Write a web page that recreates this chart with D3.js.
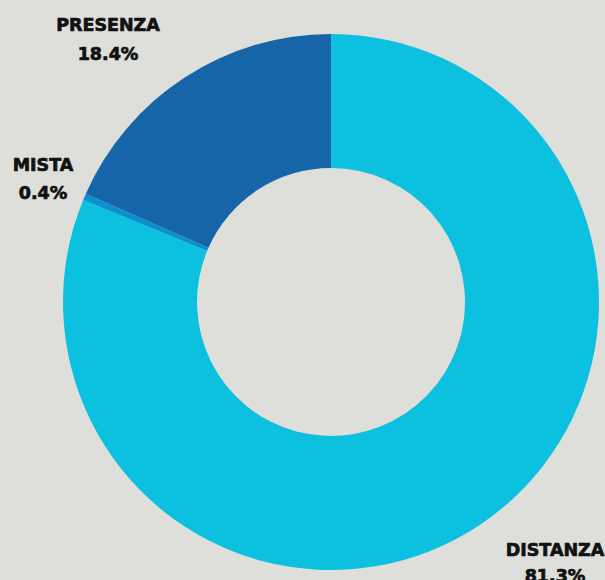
<!DOCTYPE html>
<html><head><meta charset="utf-8">
<script src="https://cdn.jsdelivr.net/npm/d3@7"></script>
<style>html,body{margin:0;padding:0;background:#dededb;overflow:hidden}</style>
</head><body>
<svg id="c" width="605" height="580"></svg>
<script>
const categories = ["DISTANZA", "MISTA", "PRESENZA"];
const values = [81.3, 0.4, 18.4];
const labels = ["81.3%", "0.4%", "18.4%"];
const colors = ["#0cc0df", "#0a8fcf", "#1565a8"];

const svg = d3.select("#c");
svg.append("rect").attr("width", 605).attr("height", 580).attr("fill", "#dededb");
const cx = 331, cy = 302, R = 268, r = 134;
const data = categories.map((c, i) => ({c, v: values[i], l: labels[i], col: colors[i]}));
const pie = d3.pie().value(d => d.v).sort(null);
const arc = d3.arc().innerRadius(r).outerRadius(R);
const g = svg.append("g").attr("transform", `translate(${cx},${cy})`);
g.selectAll("path").data(pie(data)).join("path")
  .attr("d", arc).attr("fill", d => d.data.col);

const labelPos = {
  "PRESENZA": [108, 31, 60],
  "MISTA": [43, 171, 199],
  "DISTANZA": [555, 556, 582]
};
const font = "'DejaVu Sans', sans-serif";
data.forEach(d => {
  const p = labelPos[d.c];
  [[d.c, p[1]], [d.l, p[2]]].forEach(([t, y]) => {
    svg.append("text").attr("x", p[0]).attr("y", y).attr("text-anchor", "middle")
      .attr("font-family", font).attr("font-weight", "bold").attr("font-size", 17.5)
      .attr("fill", "#111").attr("stroke", "#111").attr("stroke-width", 0.7)
      .text(t);
  });
});
</script>
</body></html>
